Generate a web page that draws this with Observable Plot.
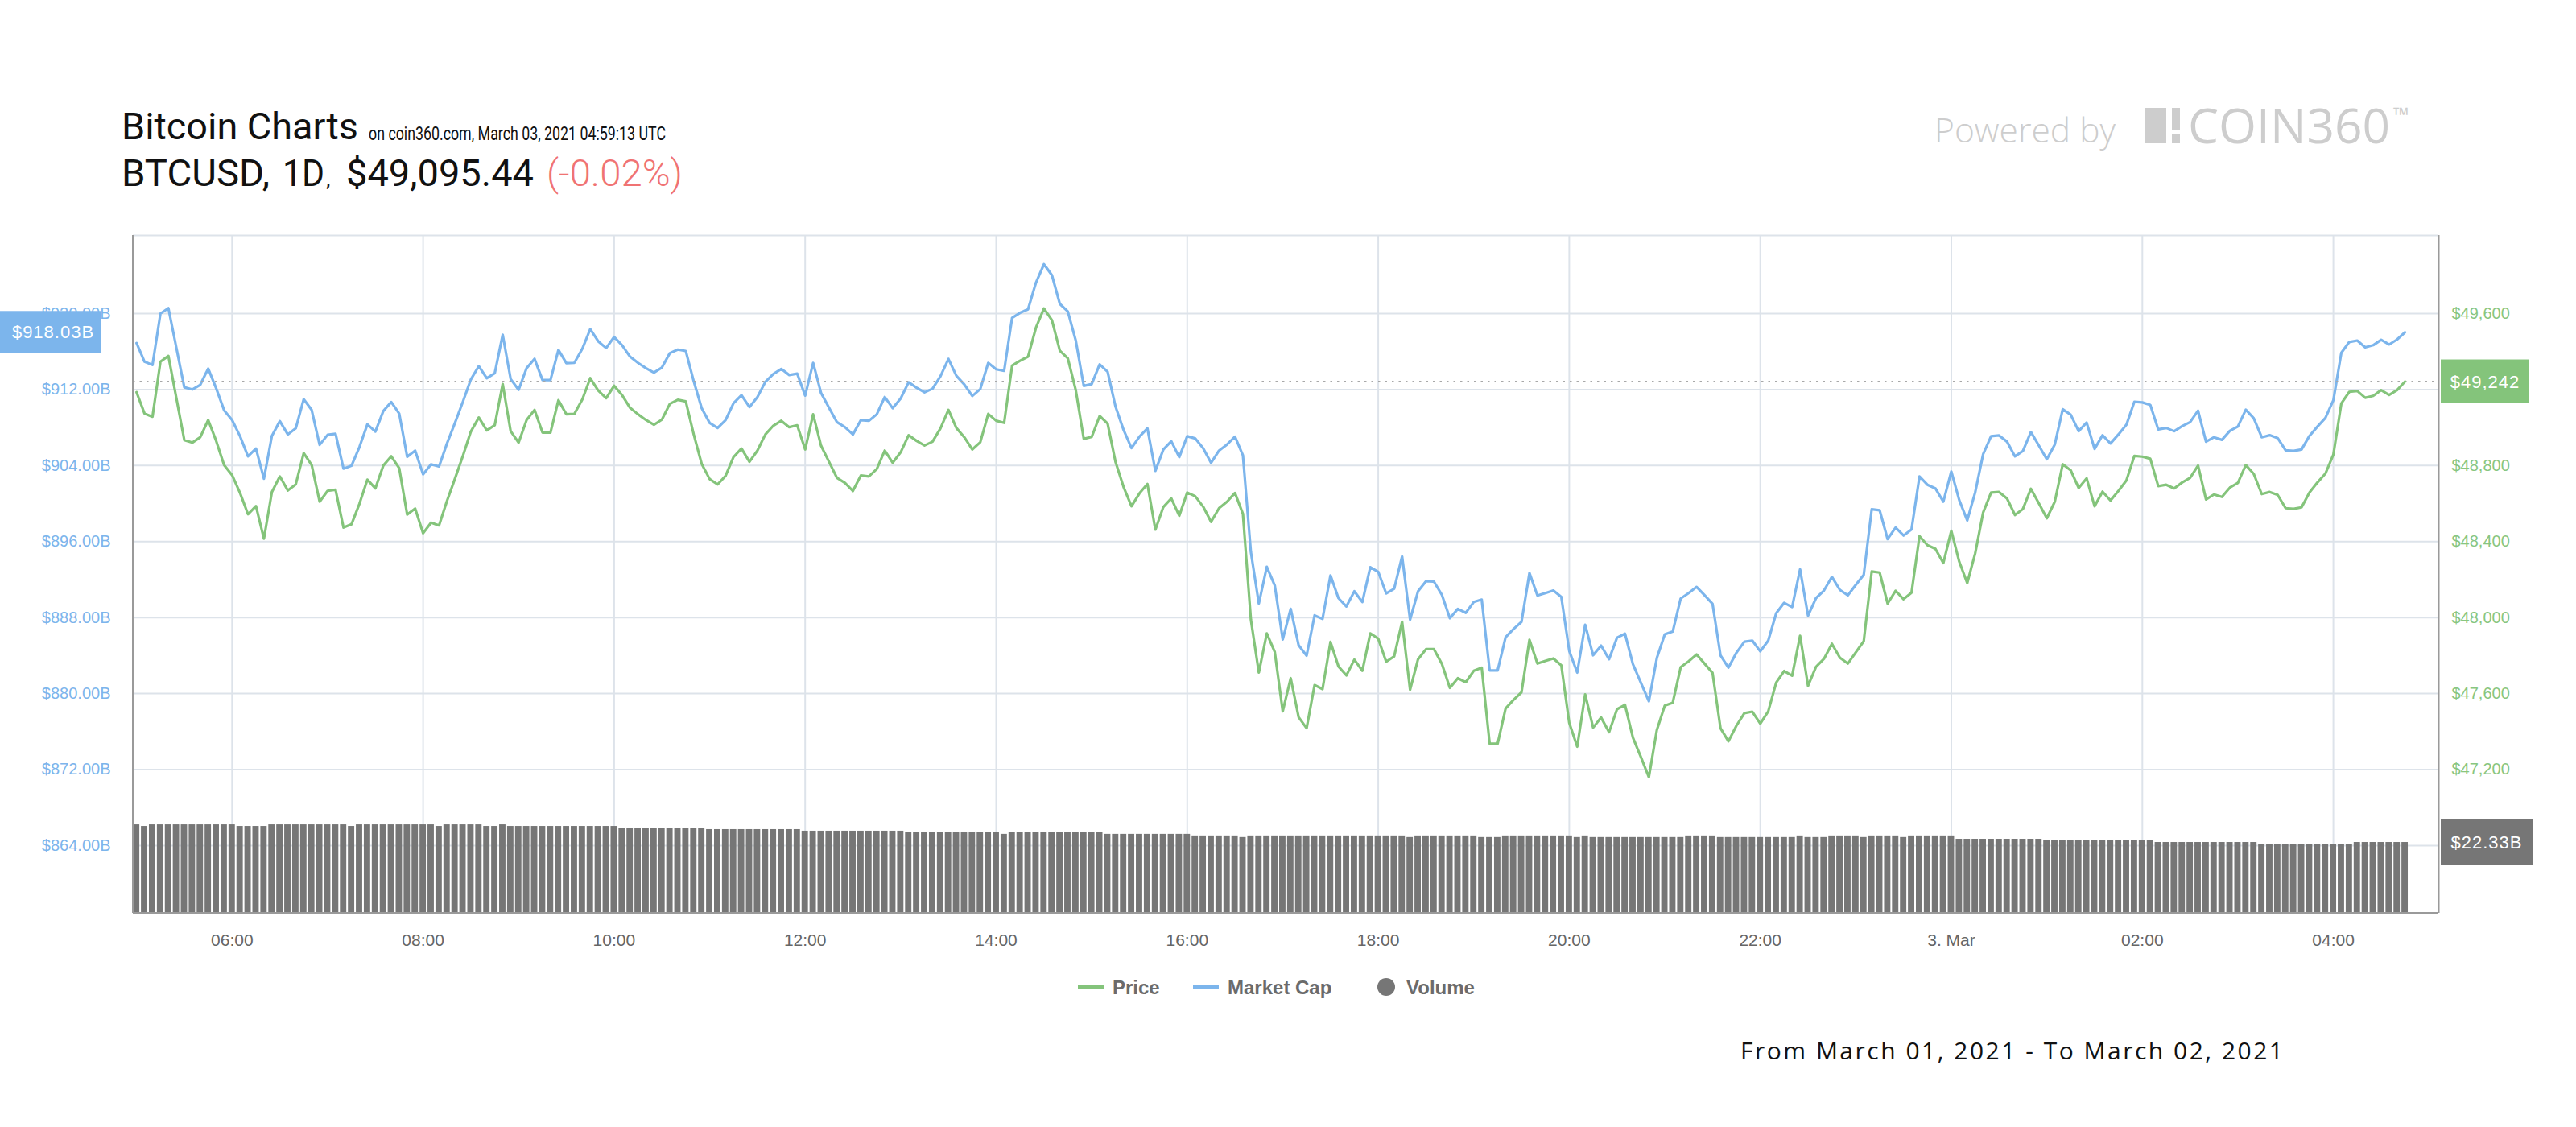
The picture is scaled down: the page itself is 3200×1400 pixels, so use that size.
<!DOCTYPE html>
<html><head><meta charset="utf-8">
<script src="https://cdn.jsdelivr.net/npm/d3@7"></script>
<script src="https://cdn.jsdelivr.net/npm/@observablehq/plot@0.6"></script>
<style>
html,body{margin:0;padding:0;background:#fff;}
#root{position:relative;width:3200px;height:1400px;overflow:hidden;background:#fff;}
</style></head><body><div id="root"></div>
<script>
// ---- data (5-minute samples, Mar 2 2021 05:00 UTC -> Mar 3 2021 04:45 UTC) ----
const startTime = Date.UTC(2021, 2, 2, 5, 0);
const stepMs = 5 * 60 * 1000;

const price = [
49186,49074,49057,49347,49377,49155,48934,48921,48949,49040,
48930,48803,48750,48656,48544,48587,48415,48661,48743,48669,
48701,48866,48803,48610,48667,48673,48474,48491,48599,48726,
48680,48800,48849,48786,48542,48574,48444,48500,48485,48614,
48731,48851,48979,49053,48985,49013,49229,48981,48921,49040,
49093,48974,48974,49144,49070,49072,49148,49260,49195,49155,
49220,49171,49104,49070,49040,49015,49042,49125,49146,49138,
48964,48809,48729,48701,48746,48845,48890,48820,48879,48964,
49010,49036,49002,49012,48885,49070,48904,48820,48735,48709,
48667,48748,48743,48782,48879,48815,48870,48960,48930,48906,
48926,48996,49093,48998,48949,48885,48923,49072,49036,49025,
49326,49352,49373,49526,49627,49566,49405,49364,49197,48941,
48951,49061,49021,48818,48688,48586,48654,48703,48463,48582,
48627,48536,48658,48639,48584,48504,48576,48610,48656,48546,
47989,47711,47917,47819,47507,47681,47476,47418,47645,47624,
47872,47743,47696,47779,47720,47917,47889,47768,47796,47978,
47620,47781,47834,47834,47756,47630,47681,47660,47720,47736,
47336,47336,47522,47567,47607,47883,47758,47772,47785,47749,
47446,47321,47596,47421,47474,47397,47518,47541,47368,47266,
47160,47408,47537,47552,47739,47770,47806,47758,47709,47418,
47349,47431,47497,47505,47442,47507,47658,47719,47694,47904,
47641,47741,47783,47862,47789,47758,47817,47876,48243,48237,
48074,48141,48097,48131,48428,48381,48362,48287,48457,48294,
48182,48338,48553,48658,48661,48627,48540,48572,48678,48601,
48523,48610,48807,48775,48682,48733,48586,48663,48616,48667,
48722,48851,48847,48836,48692,48699,48680,48711,48735,48800,
48622,48648,48635,48684,48709,48803,48756,48650,48661,48646,
48576,48572,48580,48659,48711,48758,48858,49127,49188,49193,
49157,49167,49197,49172,49197,49242
];

const marketCap = [
916.90,914.93,914.59,920.00,920.57,916.40,912.24,912.01,912.50,914.21,
912.13,909.82,908.79,907.09,904.97,905.80,902.62,907.13,908.68,907.28,
907.92,910.99,909.85,906.18,907.24,907.35,903.68,903.98,905.95,908.34,
907.58,909.74,910.69,909.47,904.93,905.58,903.08,904.14,903.91,906.33,
908.49,910.72,913.07,914.47,913.19,913.72,917.77,913.11,911.97,914.25,
915.23,913.00,913.00,916.18,914.78,914.81,916.29,918.37,917.08,916.37,
917.54,916.67,915.46,914.81,914.25,913.79,914.32,915.84,916.21,916.06,
912.88,910.04,908.49,907.96,908.79,910.57,911.41,910.16,911.22,912.81,
913.64,914.17,913.53,913.68,911.37,914.81,911.63,910.08,908.57,908.04,
907.28,908.79,908.72,909.40,911.22,910.04,911.06,912.77,912.20,911.71,
912.09,913.41,915.23,913.45,912.54,911.33,912.05,914.81,914.13,913.98,
919.55,920.08,920.45,923.26,925.19,924.05,921.02,920.23,917.16,912.39,
912.58,914.66,913.87,910.19,907.77,905.84,907.05,907.92,903.45,905.69,
906.56,904.89,907.09,906.86,905.84,904.29,905.58,906.22,907.05,905.08,
894.90,889.48,893.35,891.38,885.70,888.92,885.09,883.99,888.23,887.86,
892.44,890.05,889.18,890.77,889.64,893.31,892.82,890.54,891.04,894.44,
887.78,890.77,891.83,891.79,890.39,887.93,888.92,888.50,889.64,889.90,
882.44,882.44,885.93,886.80,887.55,892.70,890.32,890.58,890.85,890.17,
884.49,882.21,887.25,884.03,885.05,883.62,885.89,886.30,883.09,881.15,
879.19,883.73,886.23,886.53,890.01,890.58,891.23,890.35,889.45,884.03,
882.74,884.30,885.47,885.58,884.45,885.58,888.46,889.56,889.11,893.08,
888.20,890.05,890.85,892.29,890.92,890.35,891.45,892.51,899.40,899.29,
896.26,897.47,896.64,897.28,902.85,901.98,901.60,900.20,903.38,900.35,
898.23,901.18,905.20,907.09,907.17,906.52,904.97,905.54,907.54,906.11,
904.67,906.22,909.93,909.36,907.62,908.53,905.76,907.20,906.33,907.28,
908.30,910.72,910.65,910.38,907.81,907.96,907.62,908.15,908.57,909.78,
906.52,906.98,906.71,907.66,908.11,909.89,908.98,906.98,907.20,906.90,
905.61,905.54,905.69,907.13,908.11,909.02,910.88,915.87,917.01,917.16,
916.44,916.67,917.24,916.74,917.27,918.03
];

const volume = [
27.9,27.4,27.9,27.9,27.9,27.9,27.9,27.9,27.9,27.9,
27.9,27.9,27.9,27.4,27.4,27.4,27.4,27.9,27.9,27.9,
27.9,27.9,27.9,27.9,27.9,27.9,27.9,27.4,27.9,27.9,
27.9,27.9,27.9,27.9,27.9,27.9,27.9,27.9,27.4,27.9,
27.9,27.9,27.9,27.9,27.4,27.4,27.9,27.4,27.4,27.4,
27.4,27.4,27.4,27.4,27.4,27.4,27.4,27.4,27.4,27.4,
27.4,26.9,26.9,26.9,26.9,26.9,26.9,26.9,26.9,26.9,
26.9,26.9,26.4,26.4,26.4,26.4,26.4,26.4,26.4,26.4,
26.4,26.4,26.4,26.4,25.9,25.9,25.9,25.9,25.9,25.9,
25.9,25.9,25.9,25.9,25.9,25.9,25.9,25.4,25.4,25.4,
25.4,25.4,25.4,25.4,25.4,25.4,25.4,25.4,25.4,24.9,
25.4,25.4,25.4,25.4,25.4,25.4,25.4,25.4,25.4,25.4,
25.4,25.4,24.9,24.9,24.9,24.9,24.9,24.9,24.9,24.9,
24.9,24.9,24.9,24.4,24.4,24.4,24.4,24.4,24.4,23.9,
24.4,24.4,24.4,24.4,24.4,24.4,24.4,24.4,24.4,24.4,
24.4,24.4,24.4,24.4,24.4,24.4,24.4,24.4,24.4,24.4,
23.9,24.4,24.4,24.4,24.4,24.4,24.4,24.4,24.4,23.9,
23.9,23.9,24.4,24.4,24.4,24.4,24.4,24.4,24.4,24.4,
24.4,23.9,24.4,23.9,23.9,23.9,23.9,23.9,23.9,23.9,
23.9,23.9,23.9,23.9,23.9,24.4,24.4,24.4,24.4,23.9,
23.9,23.9,23.9,23.9,23.9,23.9,23.9,23.9,23.9,24.4,
23.9,23.9,23.9,24.4,24.4,24.4,24.4,23.9,24.4,24.4,
24.4,24.4,23.9,24.4,24.4,24.4,24.4,24.4,24.4,23.35,
23.35,23.35,23.35,23.35,23.35,23.35,23.35,23.35,23.35,23.35,
22.85,22.85,22.85,22.85,22.85,22.85,22.85,22.85,22.85,22.85,
22.85,22.85,22.85,22.85,22.33,22.33,22.33,22.33,22.33,22.33,
22.33,22.33,22.33,22.33,22.33,22.33,22.33,21.8,21.8,21.8,
21.8,21.8,21.8,21.8,21.8,21.8,21.8,21.8,21.8,22.33,
22.33,22.33,22.33,22.33,22.33,22.33
];

const mcTicks = [864, 872, 880, 888, 896, 904, 912, 920];
const priceTicks = [47200, 47600, 48000, 48400, 48800, 49200, 49600];
const priceLabelTicks = [47200, 47600, 48000, 48400, 48800, 49600]; // $49,200 sits under the last-price badge
const xTicks = d3.utcHour.every(2).range(Date.UTC(2021, 2, 2, 6), Date.UTC(2021, 2, 3, 4, 1));
const lastPrice = 49242, lastMarketCap = 918.03, lastVolume = 22.33;

// ---- layout ----
const W = 3200, H = 960, TOP = 262;
const margins = {marginLeft: 165, marginRight: 171, marginTop: 30, marginBottom: 88};
const xDomain = [new Date(Date.UTC(2021, 2, 2, 4, 57, 54)), new Date(Date.UTC(2021, 2, 3, 5, 6, 12))];
const mcDomain = [856.88, 928.22];
const priceDomain = [46444, 50011];
const volDomain = [0, 213.7];
const FONT = "'Liberation Sans', Arial, sans-serif";

const rows = price.map((p, i) => ({t: new Date(startTime + i * stepMs), price: p, mc: marketCap[i], vol: volume[i]}));
const fmtX = d => d.getUTCHours() === 0 ? `${d.getUTCDate()}. Mar` : d3.utcFormat("%H:%M")(d);
const fmtMc = d => `$${d.toFixed(2)}B`;
const fmtPrice = d => "$" + d3.format(",")(d);

const GRID = "#dde3ea", BORDER = "#9a9a9a", BLUE = "#7cb5ec", GREEN = "#84c47b", GREEN_TXT = "#88c680", GRAY = "#767676";
const base = {width: W, height: H, ...margins, style: {background: "transparent", fontFamily: FONT, overflow: "visible"}};

const plotA = Plot.plot({
  ...base,
  x: {type: "utc", domain: xDomain},
  y: {domain: mcDomain},
  marks: [
    Plot.gridX(xTicks, {stroke: GRID, strokeOpacity: 1, strokeWidth: 2}),
    Plot.gridY(mcTicks, {stroke: GRID, strokeOpacity: 1, strokeWidth: 2}),
    Plot.ruleY([mcDomain[1]], {stroke: GRID, strokeWidth: 2}),
    Plot.axisX(xTicks, {tickSize: 0, tickPadding: 26, fontSize: 21, fill: "#666", tickFormat: fmtX, label: null}),
    Plot.axisY(mcTicks, {anchor: "left", tickSize: 0, tickPadding: 28, fontSize: 20, fill: BLUE, tickFormat: fmtMc, label: null}),
    Plot.line(rows, {x: "t", y: "mc", stroke: BLUE, strokeWidth: 3.2})
  ]
});

const plotB = Plot.plot({
  ...base,
  x: {type: "utc", domain: xDomain, axis: null},
  y: {domain: volDomain, axis: null},
  marks: [
    Plot.rectY(rows, {x1: d => new Date(+d.t - stepMs / 2), x2: d => new Date(+d.t + stepMs / 2), y: "vol", fill: GRAY, insetLeft: 1, insetRight: 1})
  ]
});

const plotC = Plot.plot({
  ...base,
  x: {type: "utc", domain: xDomain, axis: null},
  y: {domain: priceDomain, ticks: priceTicks},
  marks: [
    Plot.ruleY([lastPrice], {stroke: "#a8a8a8", strokeWidth: 2, strokeDasharray: "2.5,6"}),
    Plot.axisY(priceLabelTicks, {anchor: "right", tickSize: 0, tickPadding: 16, fontSize: 20, fill: GREEN_TXT, tickFormat: fmtPrice, label: null}),
    Plot.line(rows, {x: "t", y: "price", stroke: GREEN, strokeWidth: 3.2}),
    Plot.ruleX([xDomain[0]], {stroke: BORDER, strokeWidth: 3}),
    Plot.ruleX([xDomain[1]], {stroke: BORDER, strokeWidth: 2}),
    Plot.ruleY([priceDomain[0]], {stroke: BORDER, strokeWidth: 3})
  ]
});

const root = document.getElementById("root");
for (const p of [plotA, plotB, plotC]) {
  p.style.position = "absolute"; p.style.left = "0px"; p.style.top = TOP + "px";
  root.appendChild(p);
}

// ---- overlay: header, badges, legend, footer ----
const svg = d3.create("svg").attr("width", W).attr("height", 1400)
  .style("position", "absolute").style("left", 0).style("top", 0);

function txt(x, y, size, str, opts = {}) {
  const t = svg.append("text").attr("x", x).attr("y", y).attr("font-family", opts.family || "Roboto")
    .attr("font-size", size).attr("fill", opts.fill || "#111").text(str);
  if (opts.weight) t.attr("font-weight", opts.weight);
  if (opts.len) t.attr("textLength", opts.len).attr("lengthAdjust", "spacingAndGlyphs");
  return t;
}
txt(151, 173, 46, "Bitcoin Charts", {len: 294});
txt(458, 174, 23, "on coin360.com, March 03, 2021 04:59:13 UTC", {len: 369});
txt(151, 231, 47, "BTCUSD,", {len: 184});
txt(351, 231, 47, "1D", {len: 52});
txt(405, 231, 28, ",");
txt(430, 231, 47, "$49,095.44", {len: 233});
txt(679, 231, 47, "(-0.02%)", {len: 169, weight: 300, fill: "#f07373"});

const LOGO = "#cdcdcd";
txt(2403, 177, 43, "Powered by", {family: "'Open Sans'", weight: 300, fill: LOGO, len: 225});
svg.append("rect").attr("x", 2665).attr("y", 134).attr("width", 26).attr("height", 44).attr("fill", LOGO);
svg.append("rect").attr("x", 2698).attr("y", 134).attr("width", 10).attr("height", 28).attr("fill", LOGO);
svg.append("rect").attr("x", 2698).attr("y", 167).attr("width", 10).attr("height", 11).attr("fill", LOGO);
txt(2718, 178, 61, "COIN360", {family: "'Open Sans'", fill: LOGO, len: 251});
txt(2973, 152, 26, "™", {family: "'Open Sans'", fill: LOGO});

// badges positioned through the plots' own scales
function badge(x, w, h, yVal, scale, fill, label, tx) {
  const y = TOP + scale.apply(yVal);
  svg.append("rect").attr("x", x).attr("y", y - h / 2).attr("width", w).attr("height", h).attr("fill", fill);
  svg.append("text").attr("x", tx).attr("y", y + 8).attr("text-anchor", "middle").attr("font-family", FONT)
    .attr("font-size", 22).attr("letter-spacing", 1).attr("fill", "#fff").text(label);
}
badge(0, 125, 52, lastMarketCap, plotA.scale("y"), BLUE, fmtMc(lastMarketCap), 66);
badge(3032, 110, 54, lastPrice, plotC.scale("y"), GREEN, fmtPrice(lastPrice), 3087);
badge(3032, 114, 56, lastVolume, plotB.scale("y"), GRAY, `$${lastVolume.toFixed(2)}B`, 3089);

// legend
const LY = 1226, LEG = "#6b6b6b";
const legend = [
  {type: "line", color: GREEN, label: "Price", x: 1339},
  {type: "line", color: BLUE, label: "Market Cap", x: 1482},
  {type: "dot", color: GRAY, label: "Volume", x: 1711}
];
for (const l of legend) {
  if (l.type === "line") {
    svg.append("line").attr("x1", l.x).attr("x2", l.x + 32).attr("y1", LY).attr("y2", LY).attr("stroke", l.color).attr("stroke-width", 4);
    svg.append("text").attr("x", l.x + 43).attr("y", LY + 8.5).attr("font-family", FONT).attr("font-weight", "bold").attr("font-size", 24).attr("fill", LEG).text(l.label);
  } else {
    svg.append("circle").attr("cx", l.x + 11).attr("cy", LY).attr("r", 11).attr("fill", l.color);
    svg.append("text").attr("x", l.x + 36).attr("y", LY + 8.5).attr("font-family", FONT).attr("font-weight", "bold").attr("font-size", 24).attr("fill", LEG).text(l.label);
  }
}

// footer
svg.append("text").attr("x", 2162).attr("y", 1316).attr("font-family", "'Open Sans'").attr("font-size", 30)
  .attr("fill", "#111").attr("textLength", 674).attr("lengthAdjust", "spacing")
  .text("From March 01, 2021 - To March 02, 2021");

root.appendChild(svg.node());
</script></body></html>
